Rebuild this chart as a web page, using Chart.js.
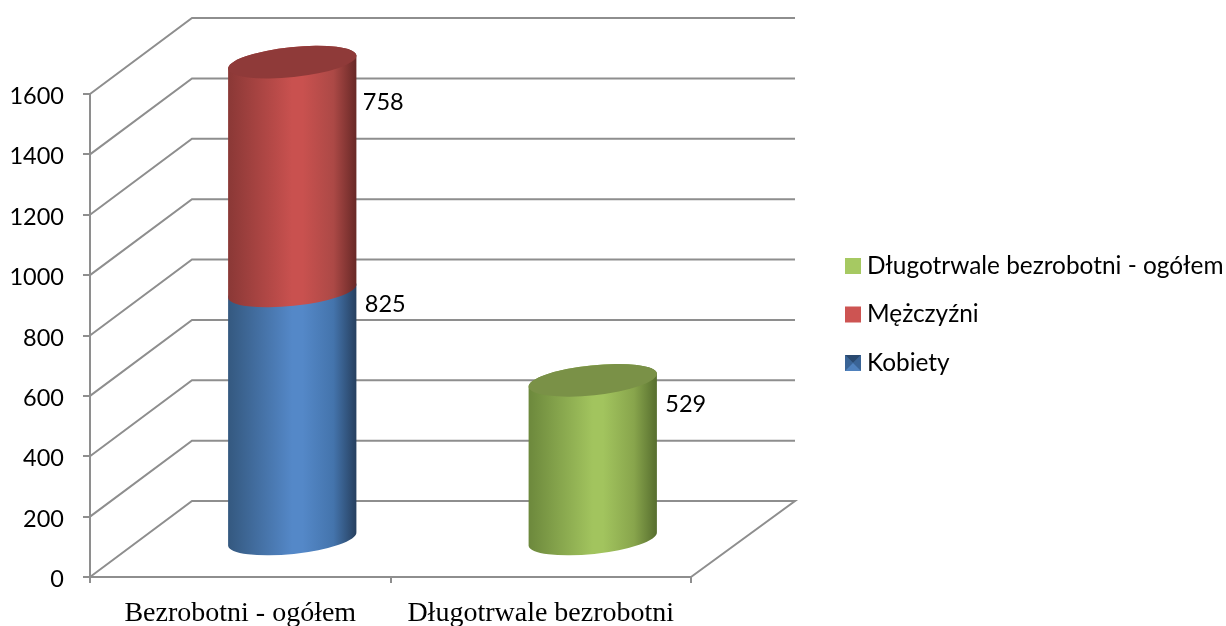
<!DOCTYPE html>
<html>
<head>
<meta charset="utf-8">
<style>
  html, body { margin: 0; padding: 0; background: #fff; }
  canvas { display: block; }
</style>
<script src="https://cdn.jsdelivr.net/npm/chart.js@4/dist/chart.umd.min.js"></script>
</head>
<body>
<canvas id="chart" width="1226" height="626"></canvas>
<script>
const categories = ["Bezrobotni - ogółem", "Długotrwale bezrobotni"];
const kobiety = [825, null];
const mezczyzni = [758, null];
const dlugotrwale = [null, 529];
const yTicks = [0, 200, 400, 600, 800, 1000, 1200, 1400, 1600];

const gridColor = "#8e8e8e";
const labelFont = "Lato";
const depthX = 102, depthY = 76;
//gradient colours of the cylinders: edge, middle, far edge, cap
const blue = { left: "#34587f", mid: "#5488c8", shade: "#4474ac", right: "#263f5e", cap: "#3f6a9c" };
const red = { left: "#8a3836", mid: "#c9514f", shade: "#ac4946", right: "#672826", cap: "#8f3a39" };
const green = { left: "#6c883c", mid: "#a2c45e", shade: "#88a54c", right: "#566d2e", cap: "#7a9147" };
const styles = [blue, red, green];
const swatches = ["#4f81bd", "#cd5452", "#a6c962"];
//where the value labels sit next to the bars
const labelShift = [{ x: 10, y: 14 }, { x: 8, y: 41 }, { x: 10, y: 25 }];

const rx = 64.5, ry = 15, tilt = -6 * Math.PI / 180;

const wallsAndCylinders = {
    id: "wallsAndCylinders",
    beforeDatasetsDraw(chart) {
        const { ctx, chartArea: area, scales: { y } } = chart;
        ctx.save();
        ctx.strokeStyle = gridColor;
        ctx.lineWidth = 2;
        for (const value of yTicks) {
            const py = y.getPixelForValue(value);
            ctx.beginPath();
            ctx.moveTo(area.left, py);
            ctx.lineTo(area.left + depthX, py - depthY);
            ctx.lineTo(area.right + depthX + 2, py - depthY);
            //floor
            if (value === 0) ctx.lineTo(area.right, py);
            ctx.stroke();
        }
        ctx.restore();
    },
    //the library would draw the bars flat, we draw them from their elements below
    beforeDatasetDraw() {
        return false;
    },
    afterDatasetsDraw(chart) {
        const { ctx } = chart;
        const tops = {};
        ctx.save();
        chart.data.datasets.forEach((ds, i) => {
            chart.getDatasetMeta(i).data.forEach((bar, j) => {
                if (ds.data[j] === null) return;
                const cx = bar.x + depthX / 2 + 1;
                const top = bar.y - depthY / 2 + 1;
                const base = bar.base - depthY / 2 + 1;
                const g = ctx.createLinearGradient(cx - rx, 0, cx + rx, 0);
                g.addColorStop(0, styles[i].left);
                g.addColorStop(0.5, styles[i].mid);
                g.addColorStop(0.58, styles[i].mid);
                g.addColorStop(0.82, styles[i].shade);
                g.addColorStop(1, styles[i].right);
                ctx.fillStyle = g;
                ctx.beginPath();
                ctx.ellipse(cx, base, rx, ry, tilt, 0, Math.PI);
                ctx.ellipse(cx, top, rx, ry, tilt, Math.PI, Math.PI * 2);
                ctx.closePath();
                ctx.fill();
                tops[j] = { cx, top, cap: styles[i].cap };
            });
        });
        for (const j in tops) {
            ctx.fillStyle = tops[j].cap;
            ctx.beginPath();
            ctx.ellipse(tops[j].cx, tops[j].top, rx, ry, tilt, 0, Math.PI * 2);
            ctx.fill();
        }
        //value labels
        ctx.fillStyle = "#000";
        ctx.font = "23.5px " + labelFont;
        ctx.textAlign = "left";
        ctx.textBaseline = "middle";
        chart.data.datasets.forEach((ds, i) => {
            chart.getDatasetMeta(i).data.forEach((bar, j) => {
                if (ds.data[j] === null) return;
                const cx = bar.x + depthX / 2;
                ctx.fillText(String(ds.data[j]), cx + rx + labelShift[i].x - 1, bar.y - depthY / 2 + labelShift[i].y);
            });
        });
        //legend, last series on top like in the original
        const count = chart.data.datasets.length;
        ctx.font = "24.4px " + labelFont;
        chart.data.datasets.forEach((ds, i) => {
            const ly = 266 + (count - 1 - i) * 48.5;
            ctx.fillStyle = swatches[i];
            ctx.fillRect(845, ly - 8, 16, 16);
            if (i === 0) {
                //Kobiety has the bevelled swatch
                ctx.fillStyle = "#3a6496";
                ctx.beginPath();
                ctx.moveTo(845, ly - 8);
                ctx.lineTo(853, ly);
                ctx.lineTo(845, ly + 8);
                ctx.closePath();
                ctx.moveTo(861, ly - 8);
                ctx.lineTo(853, ly);
                ctx.lineTo(861, ly + 8);
                ctx.closePath();
                ctx.fill();
                ctx.fillStyle = "#2a4a70";
                ctx.beginPath();
                ctx.moveTo(845, ly - 8);
                ctx.lineTo(861, ly - 8);
                ctx.lineTo(853, ly);
                ctx.closePath();
                ctx.fill();
            }
            ctx.fillStyle = "#000";
            ctx.fillText(ds.label, 867, ly);
        });
        ctx.restore();
    },
};

new Chart(document.getElementById("chart"), {
    type: "bar",
    plugins: [wallsAndCylinders],
    data: {
        labels: categories,
        datasets: [
            { label: "Kobiety", data: kobiety },
            { label: "Mężczyźni", data: mezczyzni },
            { label: "Długotrwale bezrobotni - ogółem", data: dlugotrwale },
        ],
    },
    options: {
        responsive: false,
        animation: false,
        layout: { autoPadding: false, padding: { left: 0, top: 94, right: 535, bottom: 0 } },
        plugins: {
            legend: { display: false },
            tooltip: { enabled: false },
        },
        datasets: { bar: { barThickness: 128 } },
        scales: {
            x: {
                stacked: true,
                afterFit(scale) { scale.height = 49; },
                grid: { drawOnChartArea: false, color: gridColor, lineWidth: 2, tickLength: 6 },
                border: { color: gridColor, width: 2 },
                ticks: { color: "#000", padding: 14, maxRotation: 0, font: { family: "Liberation Serif", size: 28 } },
            },
            y: {
                stacked: true,
                min: 0,
                max: 1600,
                afterFit(scale) { scale.width = 90; },
                afterBuildTicks(scale) { scale.ticks = yTicks.map((value) => ({ value })); },
                grid: { drawOnChartArea: false, color: gridColor, lineWidth: 2, tickLength: 7 },
                border: { color: gridColor, width: 2 },
                ticks: {
                    color: "#000",
                    padding: 19,
                    labelOffset: 2.5,
                    font: { family: labelFont, size: 23.5 },
                    callback: (value) => String(value),
                },
            },
        },
    },
});
</script>
</body>
</html>
